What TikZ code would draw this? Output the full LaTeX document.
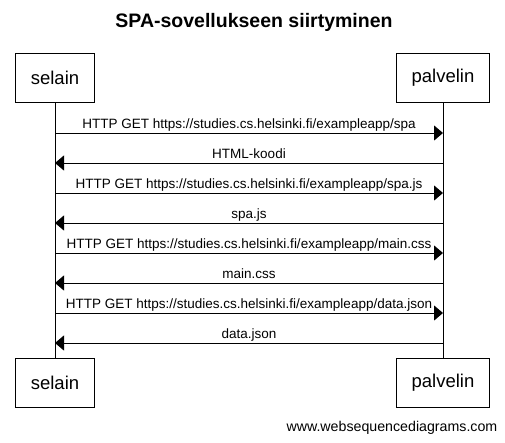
\documentclass[tikz,border=0pt]{standalone}
\usepackage{fontspec}
\setmainfont{Liberation Sans}
\usetikzlibrary{arrows.meta}

\tikzset{
  actor/.style={draw, line width=1pt, minimum height=49pt, inner xsep=15.5pt, font=\fontsize{18.5}{22}\selectfont},
  msg/.style={line width=1pt, -{Triangle[length=9pt,width=15pt]}},
  msglabel/.style={anchor=base, yshift=4.3pt, inner sep=0pt, font=\fontsize{13.5}{16}\selectfont}
}

\begin{document}
\begin{tikzpicture}[x=1pt,y=-1pt]
\useasboundingbox (0,0) rectangle (505,442);
\node[font=\bfseries\fontsize{19.5}{23}\selectfont, anchor=base] (title) at (254,27.5) {SPA-sovellukseen siirtyminen};
% participants
\node[actor] (selain) at (55,77.5) {selain};
\node[actor] (palvelin) at (443,77.5) {palvelin};
\node[actor] (selainB) at (55,382.5) {selain};
\node[actor] (palvelinB) at (443,382.5) {palvelin};
\draw[line width=1pt] (selain) -- (selainB);
\draw[line width=1pt] (palvelin) -- (palvelinB);
% message ends on the lifelines
\foreach \i in {1,...,8}
  {\coordinate (s\i) at (55,103+30*\i);
   \coordinate (p\i) at (443,103+30*\i);}
\draw[msg] (s1) -- (p1) node[midway,msglabel] {HTTP GET https://studies.cs.helsinki.fi/exampleapp/spa};
\draw[msg] (p2) -- (s2) node[midway,msglabel] {HTML-koodi};
\draw[msg] (s3) -- (p3) node[midway,msglabel] {HTTP GET https://studies.cs.helsinki.fi/exampleapp/spa.js};
\draw[msg] (p4) -- (s4) node[midway,msglabel] {spa.js};
\draw[msg] (s5) -- (p5) node[midway,msglabel] {HTTP GET https://studies.cs.helsinki.fi/exampleapp/main.css};
\draw[msg] (p6) -- (s6) node[midway,msglabel] {main.css};
\draw[msg] (s7) -- (p7) node[midway,msglabel] {HTTP GET https://studies.cs.helsinki.fi/exampleapp/data.json};
\draw[msg] (p8) -- (s8) node[midway,msglabel] {data.json};
\node[anchor=base east, inner sep=0pt, font=\fontsize{14.2}{17}\selectfont] (footer) at (497.5,431.5) {www.websequencediagrams.com};
\end{tikzpicture}
\end{document}
